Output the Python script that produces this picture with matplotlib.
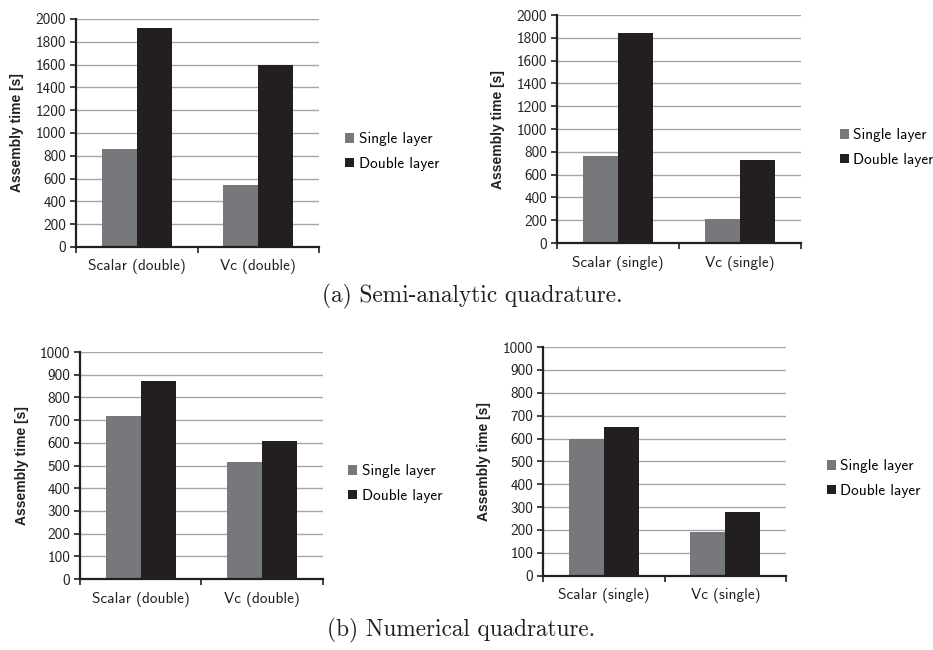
import matplotlib
matplotlib.use("Agg")
import matplotlib.pyplot as plt
import numpy as np

# ── DATA ─────────────────────────────────────────────────────
series_names = ["Single layer", "Double layer"]
series_colors = ["#77787b", "#231f20"]

cats_double = ["Scalar (double)", "Vc (double)"]
cats_single = ["Scalar (single)", "Vc (single)"]

# semi-analytic quadrature: values per category (Scalar, Vc)
semi_dbl_single_layer = [862, 542]
semi_dbl_double_layer = [1925, 1600]
semi_sgl_single_layer = [768, 212]
semi_sgl_double_layer = [1845, 730]

# numerical quadrature
num_dbl_single_layer = [720, 515]
num_dbl_double_layer = [872, 606]
num_sgl_single_layer = [600, 190]
num_sgl_double_layer = [652, 278]

ticks_semi = list(range(0, 2001, 200))
ticks_num = list(range(0, 1001, 100))

caption_a = "(a) Semi-analytic quadrature."
caption_b = "(b) Numerical quadrature."
ylabel = "Assembly time [s]"

SANS = "cmss10"
SERIF = "cmr10"
DARK = "#231f20"

fig = plt.figure(figsize=(9.33, 6.5), dpi=100)


def panel(rect, cats, single, double, yticks, legend_xy, ylab_x):
    ax = fig.add_axes(rect)
    x = np.arange(len(cats))
    w = 0.288
    for i, vals in enumerate([single, double]):
        ax.bar(x + (i - 0.5) * w, vals, width=w, color=series_colors[i],
               label=series_names[i], zorder=3, linewidth=0)
    ax.set_xlim(-0.5, len(cats) - 0.5)
    ax.set_ylim(yticks[0], yticks[-1])
    ax.set_yticks(yticks)
    ax.set_yticklabels([str(t) for t in yticks], fontfamily=SANS, fontsize=11)
    ax.set_xticks(x)
    ax.set_xticklabels(cats, fontfamily=SANS, fontsize=11)
    ax.set_xticks(np.arange(len(cats) + 1) - 0.5, minor=True)
    ax.tick_params(axis="x", which="major", length=0, pad=9, colors=DARK)
    ax.tick_params(axis="x", which="minor", length=4, width=1.2, color=DARK)
    ax.tick_params(axis="y", length=4, width=1.2, pad=3, color=DARK, labelcolor=DARK)
    ax.yaxis.grid(True, color="#a5a5a5", linewidth=1.0, zorder=0)
    ax.set_axisbelow(True)
    for s in ["top", "right"]:
        ax.spines[s].set_visible(False)
    for s in ["left", "bottom"]:
        ax.spines[s].set_color(DARK)
        ax.spines[s].set_linewidth(1.6)
        ax.spines[s].set_zorder(4)
    ax.set_ylabel(ylabel, fontfamily="Liberation Sans", fontweight="bold",
                  fontsize=10, color=DARK)
    ax.yaxis.set_label_coords(ylab_x, 0.5)
    ax.legend(loc="center left", bbox_to_anchor=legend_xy,
              bbox_transform=fig.transFigure, frameon=False,
              prop={"family": SANS, "size": 11}, handlelength=0.6,
              handleheight=0.6, handletextpad=0.3, labelspacing=0.7,
              borderaxespad=0, borderpad=0)
    return ax


panel([0.0815, 0.620, 0.2605, 0.3508], cats_double,
      semi_dbl_single_layer, semi_dbl_double_layer,
      ticks_semi, (0.370, 0.767), -0.214)
panel([0.597, 0.626, 0.2615, 0.3508], cats_single,
      semi_sgl_single_layer, semi_sgl_double_layer,
      ticks_semi, (0.900, 0.773), -0.213)
panel([0.0857, 0.1092, 0.2605, 0.3492], cats_double,
      num_dbl_single_layer, num_dbl_double_layer,
      ticks_num, (0.373, 0.256), -0.21)
panel([0.582, 0.1143, 0.2605, 0.3518], cats_single,
      num_sgl_single_layer, num_sgl_double_layer,
      ticks_num, (0.886, 0.264), -0.214)

fig.text(0.506, 1 - 296 / 650, caption_a, fontfamily=SERIF, fontsize=16.8,
         ha="center", va="center", color=DARK)
fig.text(0.494, 1 - 630 / 650, caption_b, fontfamily=SERIF, fontsize=16.8,
         ha="center", va="center", color=DARK)

fig.savefig("out.png", dpi=100, facecolor="white")
